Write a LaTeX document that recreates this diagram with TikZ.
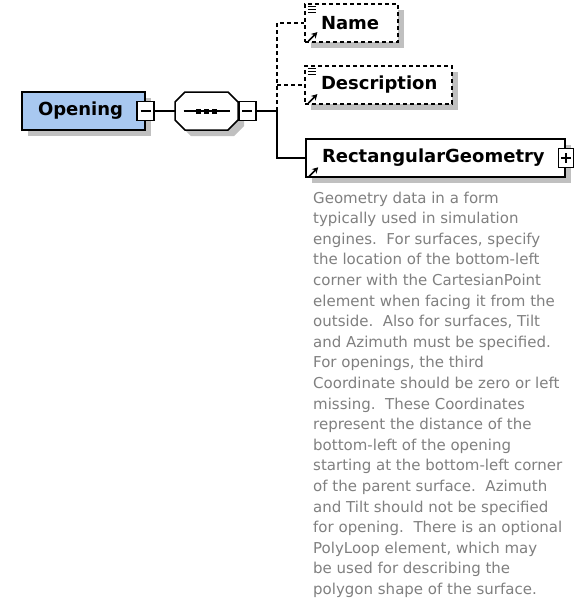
\documentclass[tikz,border=0pt]{standalone}
\usepackage{fontspec}
\setmainfont{DejaVu Sans}
\usepackage{xcolor}
\usetikzlibrary{shadows,arrows.meta}
\definecolor{elemblue}{RGB}{168,200,240}
\definecolor{docgray}{RGB}{128,128,128}
\definecolor{shadowgray}{RGB}{192,192,192}

\begin{document}
\begin{tikzpicture}[x=1pt,y=-1pt,
		elem/.style={draw,fill=white,line width=1.5pt,minimum height=38pt,inner xsep=16pt,inner ysep=0pt,
			align=left,font=\bfseries\fontsize{18}{20}\selectfont,
			drop shadow={shadow xshift=6pt,shadow yshift=-6pt,fill=shadowgray,opacity=1}},
		optelem/.style={elem,line width=1.2pt,dash pattern=on 4pt off 3pt},
		toggle/.style={draw,fill=white,line width=1.3pt,minimum width=17pt,minimum height=19pt,inner sep=0pt},
		conn/.style={line width=1.5pt},
		optconn/.style={line width=1.2pt,dash pattern=on 4pt off 3pt},
		refarrow/.style={line width=1.6pt,-{Stealth[length=6pt,width=6.5pt]}}]
		\useasboundingbox[fill=white] (0,0) rectangle (579,600);
		% parent element and sequence
		\node[elem,fill=elemblue,text width=91pt] (opening) at (83.5,111) {Opening};
		\node[toggle] (optog) at (145.5,111) {};
		\draw[line width=1.3pt] (optog.center) +(-5,0) -- +(5,0);
		\node[minimum width=63pt,minimum height=38pt,inner sep=0pt] (seq) at (206.5,111) {};
		\fill[shadowgray] ([shift={(6,6)}]seq.center) ++(-21.5,-19) -- ++(43,0) -- ++(10,10) -- ++(0,18)
			-- ++(-10,10) -- ++(-43,0) -- ++(-10,-10) -- ++(0,-18) -- cycle;
		\draw[fill=white,line width=1.5pt] (seq.center) ++(-21.5,-19) -- ++(43,0) -- ++(10,10) -- ++(0,18)
			-- ++(-10,10) -- ++(-43,0) -- ++(-10,-10) -- ++(0,-18) -- cycle;
		\draw[conn] ([xshift=-23pt]seq.center) -- ([xshift=23pt]seq.center);
		\foreach \dx in {-8,0,8}
			\fill ([xshift=\dx pt]seq.center) +(-2.5,-2.5) rectangle +(2.5,2.5);
		\node[toggle,anchor=west] (seqtog) at (seq.east) {};
		\draw[line width=1.3pt] (seqtog.center) +(-5,0) -- +(5,0);
		\draw[conn] (optog.east) -- (seq.west);
		\coordinate (spine) at (277,111);
		\draw[conn] (seqtog.east) -- (spine);
		% child elements
		\node[optelem,text width=61pt] (name) at (351.5,23) {Name};
		\node[optelem,text width=115pt] (desc) at (378.5,85) {Description};
		\node[elem,text width=227pt] (rect) at (435.5,158) {RectangularGeometry};
		\node[toggle,minimum width=15pt] (recttog) at (566,158) {};
		\draw[line width=1.3pt] (recttog.center) +(-5,0) -- +(5,0) (recttog.center) +(0,-5) -- +(0,5);
		\draw[optconn] (spine) |- (name.west);
		\draw[optconn] (spine |- desc.west) -- (desc.west);
		\draw[conn] (spine) |- (rect.west);
		% icons
		\foreach \elname in {name,desc} {
			\foreach \dy in {3,6,9}
				\draw[line width=0.9pt] ([shift={(4,\dy)}]\elname.north west) -- ++(8,0);
		}
		\foreach \elname in {name,desc,rect}
			\draw[refarrow] ([shift={(4,-1.5)}]\elname.south west) -- ++(9,-9);
		% annotation
		\node[anchor=north west,inner sep=0pt,align=left,text=docgray,font=\fontsize{15}{20.6}\selectfont] (doc) at (313,191.5)
			{Geometry data in a form\\
			typically used in simulation\\
			engines.\ \ For surfaces, specify\\
			the location of the bottom-left\\
			corner with the CartesianPoint\\
			element when facing it from the\\
			outside.\ \ Also for surfaces, Tilt\\
			and Azimuth must be specified.\\
			For openings, the third\\
			Coordinate should be zero or left\\
			missing.\ \ These Coordinates\\
			represent the distance of the\\
			bottom-left of the opening\\
			starting at the bottom-left corner\\
			of the parent surface.\ \ Azimuth\\
			and Tilt should not be specified\\
			for opening.\ \ There is an optional\\
			PolyLoop element, which may\\
			be used for describing the\\
			polygon shape of the surface.};
	\end{tikzpicture}
\end{document}
